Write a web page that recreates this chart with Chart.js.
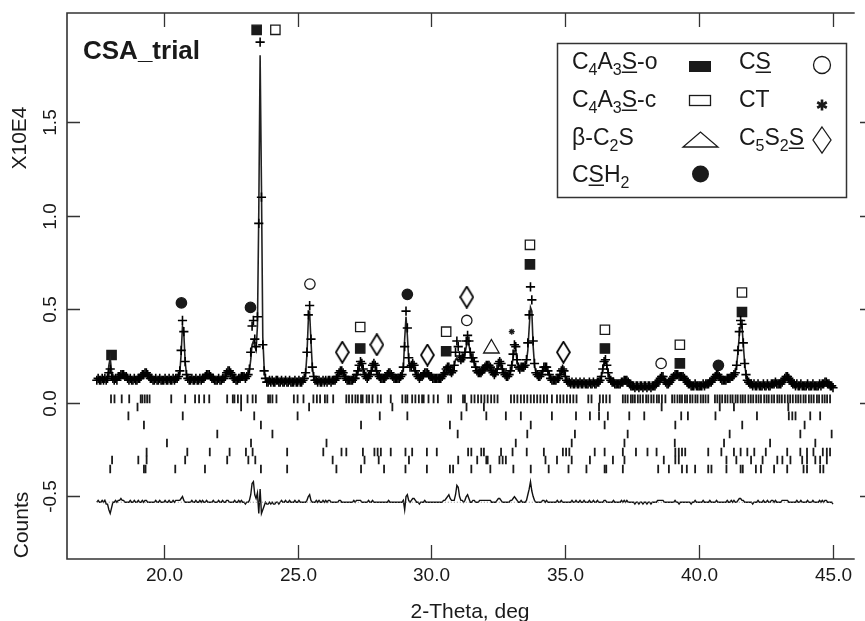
<!DOCTYPE html>
<html>
<head>
<meta charset="utf-8">
<script src="https://cdn.jsdelivr.net/npm/chart.js@4.4.1/dist/chart.umd.min.js"></script>
<style>
  html, body { margin: 0; padding: 0; background: #fff; }
  canvas { display: block; }
</style>
</head>
<body>
<canvas id="xrd" width="865" height="621"></canvas>
<script>
'use strict'

/* ------------------------------ Data ------------------------------ */

// scan: 17.50 .. 45.00 deg 2-theta, step 0.05
const scanStart = 17.5
const scanStep = 0.05

// observed intensity, counts / 100 (one line per degree)
const observed = [
  12, 13, 12, 12, 13, 12, 13, 12, 13, 16,
  18, 14, 13, 12, 13, 12, 14, 14, 15, 15, 15, 14, 14, 13, 12, 13, 12, 12, 13, 12,
  12, 13, 13, 14, 15, 15, 16, 16, 15, 14, 13, 13, 12, 12, 13, 12, 12, 13, 12, 12,
  12, 13, 12, 12, 13, 12, 12, 13, 12, 13, 13, 14, 17, 28, 44, 38, 22, 15, 13, 12,
  12, 13, 12, 12, 13, 12, 12, 13, 12, 13, 13, 14, 15, 15, 15, 14, 13, 13, 12, 12,
  12, 13, 12, 12, 13, 13, 14, 16, 17, 17, 16, 15, 13, 13, 12, 12, 13, 13, 14, 14,
  14, 13, 14, 15, 18, 27, 41, 44, 34, 30, 46, 96, 193, 110, 31, 17, 13, 11, 11, 12,
  11, 12, 11, 11, 12, 12, 11, 11, 12, 11, 11, 12, 11, 11, 12, 11, 11, 11, 12, 11,
  11, 12, 11, 11, 12, 13, 16, 27, 47, 52, 34, 19, 14, 12, 12, 11, 12, 11, 11, 12,
  11, 12, 11, 12, 12, 11, 12, 12, 12, 13, 14, 16, 17, 17, 16, 14, 13, 12, 12, 12,
  12, 12, 13, 13, 15, 17, 20, 22, 21, 18, 15, 14, 13, 14, 15, 17, 20, 21, 20, 17,
  15, 14, 13, 13, 13, 13, 14, 15, 16, 16, 15, 14, 13, 13, 13, 13, 13, 14, 15, 19,
  30, 49, 40, 24, 19, 20, 21, 20, 17, 15, 14, 13, 14, 14, 15, 16, 16, 16, 15, 14,
  14, 13, 13, 13, 13, 13, 13, 13, 14, 15, 16, 18, 19, 19, 17, 16, 17, 20, 27, 33,
  30, 25, 23, 24, 24, 27, 33, 36, 33, 27, 24, 24, 22, 19, 17, 16, 16, 16, 17, 18,
  19, 20, 20, 20, 19, 17, 16, 15, 16, 18, 21, 22, 21, 18, 16, 15, 14, 14, 15, 17,
  20, 26, 31, 30, 23, 19, 18, 19, 19, 19, 20, 23, 32, 47, 62, 55, 33, 21, 16, 15,
  14, 14, 15, 17, 19, 19, 19, 17, 15, 13, 12, 12, 12, 12, 13, 13, 15, 17, 18, 17,
  14, 12, 11, 11, 10, 11, 10, 10, 11, 10, 10, 11, 10, 10, 11, 10, 10, 10, 11, 10,
  10, 11, 10, 10, 11, 11, 12, 14, 18, 22, 23, 20, 16, 13, 12, 11, 11, 10, 10, 10,
  10, 10, 11, 11, 12, 12, 12, 11, 10, 9, 9, 9, 8, 9, 9, 8, 9, 9, 8, 9,
  9, 8, 9, 9, 8, 9, 9, 9, 10, 11, 12, 13, 14, 14, 12, 11, 10, 10, 11, 12,
  13, 14, 15, 15, 15, 14, 14, 14, 14, 13, 12, 11, 10, 10, 9, 9, 9, 10, 9, 9,
  9, 9, 9, 10, 9, 10, 10, 10, 11, 11, 12, 13, 14, 15, 15, 14, 13, 12, 12, 12,
  12, 13, 13, 13, 14, 14, 15, 16, 20, 28, 38, 44, 42, 32, 21, 15, 12, 11, 10, 10,
  9, 10, 9, 9, 10, 9, 9, 9, 10, 9, 9, 10, 9, 9, 10, 10, 10, 11, 10, 10,
  10, 10, 11, 12, 13, 14, 14, 13, 12, 11, 10, 10, 9, 10, 9, 9, 10, 9, 9, 9,
  9, 10, 9, 9, 9, 10, 9, 9, 9, 9, 10, 9, 10, 10, 11, 11, 10, 10, 9, 9, 8
]

// calculated (Rietveld fit), counts / 100
const calculated = [
  12, 12, 12, 12, 12, 12, 12, 13, 14, 20,
  24, 17, 13, 12, 12, 12, 13, 13, 13, 14, 14, 14, 14, 13, 12, 12, 12, 12, 12, 12,
  12, 12, 13, 14, 14, 15, 15, 15, 15, 14, 13, 13, 12, 12, 12, 12, 12, 12, 12, 12,
  12, 12, 12, 12, 12, 12, 12, 12, 12, 12, 12, 13, 16, 26, 41, 37, 22, 15, 13, 12,
  12, 12, 12, 12, 12, 12, 12, 12, 12, 12, 13, 14, 14, 15, 15, 14, 13, 12, 12, 12,
  12, 12, 12, 12, 12, 13, 14, 15, 16, 17, 16, 15, 13, 12, 12, 12, 12, 13, 13, 14,
  14, 14, 14, 15, 17, 23, 31, 33, 30, 28, 41, 102, 186, 116, 35, 19, 13, 12, 12, 12,
  12, 12, 12, 12, 12, 12, 12, 11, 11, 11, 11, 11, 11, 11, 11, 11, 11, 11, 11, 11,
  11, 11, 11, 11, 12, 13, 16, 26, 44, 48, 33, 19, 14, 12, 11, 11, 11, 11, 11, 11,
  11, 11, 11, 11, 11, 11, 12, 12, 12, 13, 14, 15, 16, 17, 16, 14, 13, 12, 12, 12,
  12, 12, 12, 13, 14, 16, 19, 21, 21, 18, 15, 14, 13, 13, 15, 17, 19, 21, 20, 17,
  15, 14, 13, 13, 13, 13, 14, 15, 15, 16, 15, 14, 13, 13, 13, 13, 13, 14, 15, 18,
  34, 46, 36, 23, 19, 19, 19, 18, 16, 15, 14, 14, 14, 14, 15, 15, 16, 16, 15, 14,
  14, 13, 13, 13, 13, 13, 13, 13, 14, 14, 15, 16, 16, 15, 15, 15, 16, 19, 23, 24,
  22, 22, 22, 23, 24, 26, 30, 32, 31, 27, 24, 23, 21, 19, 17, 16, 15, 15, 16, 17,
  18, 19, 19, 19, 18, 17, 16, 15, 16, 17, 19, 20, 20, 18, 16, 15, 14, 14, 15, 16,
  19, 24, 28, 28, 22, 19, 18, 18, 19, 19, 20, 22, 28, 40, 51, 49, 30, 20, 16, 15,
  14, 14, 15, 16, 18, 19, 18, 17, 15, 13, 12, 12, 12, 12, 12, 13, 15, 16, 18, 17,
  14, 12, 11, 11, 10, 10, 10, 10, 10, 10, 10, 10, 10, 10, 10, 10, 10, 10, 10, 10,
  10, 10, 10, 10, 10, 11, 12, 14, 18, 21, 22, 20, 16, 13, 12, 11, 10, 10, 10, 10,
  10, 10, 10, 11, 11, 12, 11, 11, 10, 9, 9, 9, 9, 9, 9, 9, 9, 9, 9, 9,
  9, 9, 9, 9, 9, 9, 9, 9, 10, 10, 11, 12, 13, 13, 12, 11, 10, 10, 11, 12,
  13, 14, 14, 15, 15, 15, 14, 14, 14, 13, 12, 11, 10, 10, 10, 9, 9, 9, 9, 9,
  9, 9, 9, 9, 9, 10, 10, 10, 10, 11, 12, 13, 14, 14, 15, 14, 13, 12, 12, 12,
  12, 12, 13, 13, 13, 14, 14, 16, 20, 27, 36, 42, 41, 31, 21, 15, 12, 11, 10, 10,
  10, 10, 9, 9, 9, 9, 9, 9, 9, 9, 9, 9, 9, 9, 9, 9, 10, 10, 10, 10,
  10, 10, 10, 11, 12, 13, 13, 13, 12, 11, 10, 10, 9, 9, 9, 9, 9, 9, 9, 9,
  9, 9, 9, 9, 9, 9, 9, 9, 9, 9, 9, 9, 9, 10, 10, 10, 10, 10, 9, 9, 9
]

// reflection positions (2-theta) for each phase row, top to bottom
const reflections1 = [18.03, 18.16, 18.43, 18.71, 19.14, 19.2, 19.29, 19.38, 19.47, 20.28, 20.8, 21.17, 21.32, 21.51, 21.7,
  22.37, 22.58, 22.64, 22.77, 22.89, 23.13, 23.32, 23.44, 23.9, 23.97, 24.06, 24.21, 24.86, 25.0, 25.22, 25.59, 25.72,
  25.84, 26.02, 26.11, 26.33, 26.82, 26.92, 27.04, 27.16, 27.25, 27.37, 27.43, 27.58, 27.67, 27.8, 27.99, 28.11, 28.48,
  28.91, 29.03, 29.1, 29.28, 29.4, 29.53, 29.65, 29.71, 29.89, 30.08, 30.24, 30.63, 30.73, 31.18, 31.25, 31.49, 31.61,
  31.74, 31.86, 31.98, 32.1, 32.23, 32.35, 32.47, 32.97, 33.09, 33.21, 33.34, 33.46, 33.58, 33.71, 33.83, 33.95, 34.07,
  34.2, 34.32, 34.5, 34.69, 34.81, 34.93, 35.06, 35.18, 35.3, 35.42, 35.86, 35.98, 36.29, 36.41, 36.53, 36.66, 37.15,
  37.24, 37.33, 37.45, 37.52, 37.6, 37.71, 37.8, 37.9, 38.02, 38.1, 38.21, 38.3, 38.42, 38.5, 38.61, 38.74, 38.99,
  39.08, 39.19, 39.28, 39.36, 39.47, 39.55, 39.66, 39.75, 39.86, 39.94, 40.06, 40.15, 40.24, 40.34, 40.59, 40.68,
  40.77, 40.86, 40.97, 41.06, 41.17, 41.25, 41.36, 41.44, 41.55, 41.63, 41.72, 41.84, 41.93, 42.02, 42.13, 42.22,
  42.31, 42.43, 42.52, 42.6, 42.71, 42.8, 42.92, 43.0, 43.09, 43.2, 43.31, 43.4, 43.5, 43.61, 43.7, 43.79, 43.9,
  43.98, 44.1, 44.19, 44.28, 44.4, 44.48, 44.6, 44.69, 44.78, 44.89]
const reflections2 = [19.02, 22.89, 25.43, 28.54, 31.31, 31.96, 36.26, 38.6, 40.77, 41.3, 43.33]
const reflections3 = [18.68, 20.71, 23.38, 25.0, 28.07, 29.1, 31.12, 32.05, 32.78, 33.34, 34.5, 35.4, 35.92, 36.26,
  36.59, 37.39, 37.95, 39.33, 39.58, 40.61, 42.16, 43.35, 43.48, 43.6, 44.15, 44.52]
const reflections4 = [19.26, 23.63, 27.37, 30.69, 33.71, 36.47, 39.11, 41.61, 43.94]
const reflections5 = [22.0, 24.06, 30.98, 33.58, 35.36, 37.33, 41.14, 43.78, 44.95]
const reflections6 = [20.12, 23.26, 26.08, 33.15, 35.24, 37.21, 39.09, 40.93, 42.65, 44.34]
const reflections7 = [19.36, 20.88, 21.72, 22.46, 23.07, 23.32, 24.61, 25.96, 26.64, 26.82, 27.44, 27.87, 27.99, 28.11,
  28.48, 29.03, 29.28, 29.83, 30.2, 31.37, 31.49, 31.86, 31.96, 32.6, 33.03, 33.56, 34.2, 34.91, 35.03, 35.15, 36.1,
  36.47, 37.15, 37.64, 38.07, 38.41, 39.11, 39.24, 39.36, 39.48, 40.34, 40.83, 41.3, 41.55, 41.8, 42.06, 42.49, 43.29,
  43.78, 44.03, 44.27, 44.62, 44.77, 44.89]
const reflections8 = [18.07, 19.05, 19.36, 20.8, 22.37, 23.16, 23.42, 26.31, 27.5, 28.03, 29.16, 31.0, 31.71, 32.05,
  32.1, 32.54, 32.66, 32.78, 34.26, 34.69, 35.24, 35.92, 36.78, 37.21, 38.68, 39.11, 39.24, 41.02, 41.39, 41.94, 42.37,
  42.92, 43.11, 43.41, 43.85, 44.03, 44.34, 44.52, 44.77]
const reflections9 = [18.0, 19.26, 19.32, 20.43, 21.54, 23.63, 24.61, 26.45, 27.37, 28.23, 29.03, 29.83, 30.69, 30.81,
  31.49, 32.2, 33.06, 33.71, 34.38, 35.12, 35.79, 36.47, 36.53, 37.15, 38.47, 38.87, 39.36, 39.54, 39.85, 40.34, 40.46,
  41.02, 41.55, 41.63, 42.12, 42.31, 42.8, 43.29, 43.9, 44.03, 44.52, 44.64]

// phase labels placed above peaks: [2-theta, height in 10^4 counts]
const peaksC4A3So = [[18.05, 0.255], [23.47, 1.996], [27.34, 0.29], [30.55, 0.275], [33.68, 0.74], [36.48, 0.29], [39.28, 0.21], [41.6, 0.485]]
const peaksC4A3Sc = [[24.17, 1.996], [27.34, 0.405], [30.55, 0.38], [33.68, 0.845], [36.48, 0.39], [39.28, 0.31], [41.6, 0.59]]
const peaksBetaC2S = [[32.24, 0.29]]
const peaksCSH2 = [[20.66, 0.534], [23.24, 0.51], [29.1, 0.58], [40.72, 0.2]]
const peaksCS = [[25.46, 0.635], [31.32, 0.44], [38.58, 0.21]]
const peaksCT = [[33.0, 0.38]]
const peaksC5S2S = [[26.67, 0.27], [27.96, 0.31], [29.85, 0.255], [31.32, 0.565], [34.93, 0.27]]

const xTickValues = [20, 25, 30, 35, 40, 45]
const yTickValues = [-0.5, 0, 0.5, 1.0, 1.5]

/* ------------------------------ Helpers ------------------------------ */

const INK = '#1a1a1a'
const FONT = '"Liberation Sans", Arial, sans-serif'

function scanPoints (values, offset) {
  return values.map((v, i) => ({ x: scanStart + i * scanStep, y: offset + v / 100 }))
}

function tickRow (positions, level) {
  return {
    data: positions.map(p => ({ x: p, y: level })),
    showLine: false,
    pointStyle: 'line',
    rotation: 90,
    pointRadius: 4.3,
    borderWidth: 1.8,
    borderColor: INK
  }
}

function markerSet (pairs, style, radius, filled) {
  return {
    data: pairs.map(([x, y]) => ({ x, y })),
    showLine: false,
    pointStyle: style,
    pointRadius: radius,
    borderWidth: 1.3,
    borderColor: INK,
    backgroundColor: filled ? INK : 'rgba(0,0,0,0)'
  }
}

function makeDiamond (w, h) {
  const c = document.createElement('canvas')
  c.width = w + 2
  c.height = h + 2
  const g = c.getContext('2d')
  g.strokeStyle = '#000'
  g.lineWidth = 1.8
  g.beginPath()
  g.moveTo(c.width / 2, 1)
  g.lineTo(c.width - 1, c.height / 2)
  g.lineTo(c.width / 2, c.height - 1)
  g.lineTo(1, c.height / 2)
  g.closePath()
  g.stroke()
  return c
}

// draw text made of parts: [text, 'sub' | 'u' | undefined]
function richText (ctx, parts, x, y, size) {
  let cx = x
  parts.forEach(([t, kind]) => {
    const s = kind === 'sub' ? Math.round(size * 0.68) : size
    ctx.font = `${s}px ${FONT}`
    const dy = kind === 'sub' ? size * 0.28 : 0
    ctx.fillText(t, cx, y + dy)
    const w = ctx.measureText(t).width
    if (kind === 'u') {
      ctx.fillRect(cx, y + 2.5, w, 1.5)
    }
    cx += w
  })
}

/* ------------------------------ Frame, labels, legend ------------------------------ */

const decorations = {
  id: 'decorations',
  afterDraw (chart) {
    const { ctx, chartArea: area } = chart
    const xs = chart.scales.x
    const ys = chart.scales.y
    ctx.save()
    ctx.strokeStyle = '#333'
    ctx.fillStyle = INK
    ctx.lineWidth = 1.6

    // frame (right side falls outside the picture)
    ctx.beginPath()
    ctx.moveTo(area.right, area.top)
    ctx.lineTo(area.left, area.top)
    ctx.lineTo(area.left, area.bottom)
    ctx.lineTo(area.right, area.bottom)
    ctx.stroke()

    // inward ticks + labels
    ctx.lineWidth = 1.3
    ctx.font = `19px ${FONT}`
    ctx.textAlign = 'center'
    ctx.textBaseline = 'alphabetic'
    xTickValues.forEach(v => {
      const px = Math.round(xs.getPixelForValue(v)) + 0.5
      ctx.beginPath()
      ctx.moveTo(px, area.bottom)
      ctx.lineTo(px, area.bottom - 14)
      ctx.moveTo(px, area.top)
      ctx.lineTo(px, area.top + 14)
      ctx.stroke()
      ctx.fillText(v.toFixed(1), px, 581)
    })
    yTickValues.forEach(v => {
      const py = Math.round(ys.getPixelForValue(v)) + 0.5
      ctx.beginPath()
      ctx.moveTo(area.left, py)
      ctx.lineTo(area.left + 13, py)
      ctx.moveTo(873, py)
      ctx.lineTo(860, py)
      ctx.stroke()
      ctx.save()
      ctx.translate(56, py)
      ctx.rotate(-Math.PI / 2)
      ctx.fillText(v.toFixed(1), 0, 0)
      ctx.restore()
    })

    // axis titles
    ctx.font = `21px ${FONT}`
    ctx.fillText('2-Theta, deg', 470, 618)
    ctx.save()
    ctx.translate(26, 138)
    ctx.rotate(-Math.PI / 2)
    ctx.fillText('X10E4', 0, 0)
    ctx.restore()
    ctx.save()
    ctx.translate(28, 525)
    ctx.rotate(-Math.PI / 2)
    ctx.fillText('Counts', 0, 0)
    ctx.restore()

    // sample name
    ctx.textAlign = 'left'
    ctx.font = `bold 26px ${FONT}`
    ctx.fillText('CSA_trial', 83, 59)

    // legend box
    ctx.fillStyle = '#fff'
    ctx.fillRect(557, 43, 289, 154)
    ctx.strokeStyle = '#333'
    ctx.lineWidth = 1.5
    ctx.strokeRect(557.5, 43.5, 289, 154)
    ctx.fillStyle = INK
    ctx.strokeStyle = INK

    const size = 23
    richText(ctx, [['C'], ['4', 'sub'], ['A'], ['3', 'sub'], ['S', 'u'], ['-o']], 572, 69, size)
    richText(ctx, [['C'], ['4', 'sub'], ['A'], ['3', 'sub'], ['S', 'u'], ['-c']], 572, 107, size)
    richText(ctx, [['\u03b2-C'], ['2', 'sub'], ['S']], 572, 145, size)
    richText(ctx, [['C'], ['S', 'u'], ['H'], ['2', 'sub']], 572, 182, size)
    richText(ctx, [['C'], ['S', 'u']], 739, 69, size)
    richText(ctx, [['CT']], 739, 107, size)
    richText(ctx, [['C'], ['5', 'sub'], ['S'], ['2', 'sub'], ['S', 'u']], 739, 145, size)

    ctx.lineWidth = 1.3
    ctx.fillRect(689, 61, 22, 11)
    ctx.strokeRect(689.5, 95.5, 21, 10)
    ctx.beginPath()
    ctx.moveTo(683, 147)
    ctx.lineTo(718, 147)
    ctx.lineTo(700.5, 132)
    ctx.closePath()
    ctx.stroke()
    ctx.beginPath()
    ctx.arc(700.5, 174, 8.5, 0, Math.PI * 2)
    ctx.fill()
    ctx.beginPath()
    ctx.arc(822, 65, 8.5, 0, Math.PI * 2)
    ctx.stroke()
    ctx.lineWidth = 2.6
    ctx.beginPath()
    for (let k = 0; k < 3; k++) {
      const a = Math.PI / 2 + k * Math.PI / 3
      ctx.moveTo(822 + Math.cos(a) * 5.5, 105 + Math.sin(a) * 5.5)
      ctx.lineTo(822 - Math.cos(a) * 5.5, 105 - Math.sin(a) * 5.5)
    }
    ctx.stroke()
    ctx.lineWidth = 1.3
    ctx.beginPath()
    ctx.moveTo(822, 127)
    ctx.lineTo(831, 140)
    ctx.lineTo(822, 153)
    ctx.lineTo(813, 140)
    ctx.closePath()
    ctx.stroke()
    ctx.restore()
  }
}

/* ------------------------------ Chart ------------------------------ */

const diffOffset = -0.533
const differencePoints = observed.map((v, i) => ({
  x: scanStart + i * scanStep,
  y: diffOffset + (v - calculated[i]) / 100
}))
const scanEnd = scanStart + (observed.length - 1) * scanStep

const rowLevels = [0.02, -0.023, -0.071, -0.12, -0.168, -0.216, -0.264, -0.307, -0.355]
const reflectionRows = [reflections1, reflections2, reflections3, reflections4, reflections5,
  reflections6, reflections7, reflections8, reflections9]

const datasets = [
  {
    label: 'observed',
    data: scanPoints(observed, 0),
    showLine: false,
    pointStyle: 'cross',
    pointRadius: 4.6,
    borderWidth: 1.6,
    borderColor: '#000'
  },
  {
    label: 'calculated',
    data: scanPoints(calculated, 0),
    showLine: true,
    pointRadius: 0,
    borderWidth: 1.6,
    borderColor: '#222'
  },
  {
    label: 'zero',
    data: [{ x: scanStart, y: diffOffset }, { x: scanEnd, y: diffOffset }],
    showLine: true,
    pointRadius: 0,
    borderWidth: 1,
    borderDash: [1, 2],
    borderColor: '#888'
  },
  {
    label: 'difference',
    data: differencePoints,
    showLine: true,
    pointRadius: 0,
    borderWidth: 1.4,
    borderColor: '#111'
  }
]
reflectionRows.forEach((row, i) => datasets.push(tickRow(row, rowLevels[i])))
datasets.push(markerSet(peaksC4A3So, 'rect', 6.6, true))
datasets.push(markerSet(peaksC4A3Sc, 'rect', 6.6, false))
datasets.push(markerSet(peaksBetaC2S, 'triangle', 9, false))
datasets.push(markerSet(peaksCSH2, 'circle', 5.2, true))
datasets.push(markerSet(peaksCS, 'circle', 5.2, false))
datasets.push(markerSet(peaksCT, 'star', 3, false))
datasets.push(markerSet(peaksC5S2S, makeDiamond(13, 21), 8, false))

new Chart(document.getElementById('xrd'), {
  type: 'scatter',
  data: { datasets },
  options: {
    responsive: false,
    devicePixelRatio: 1,
    animation: false,
    layout: { padding: { left: 67, top: 13, right: 0, bottom: 62 } },
    plugins: { legend: { display: false }, tooltip: { enabled: false } },
    events: [],
    scales: {
      x: { type: 'linear', min: 16.386, max: 45.811, display: false },
      y: { type: 'linear', min: -0.837, max: 2.086, display: false }
    }
  },
  plugins: [decorations]
})
</script>
</body>
</html>
